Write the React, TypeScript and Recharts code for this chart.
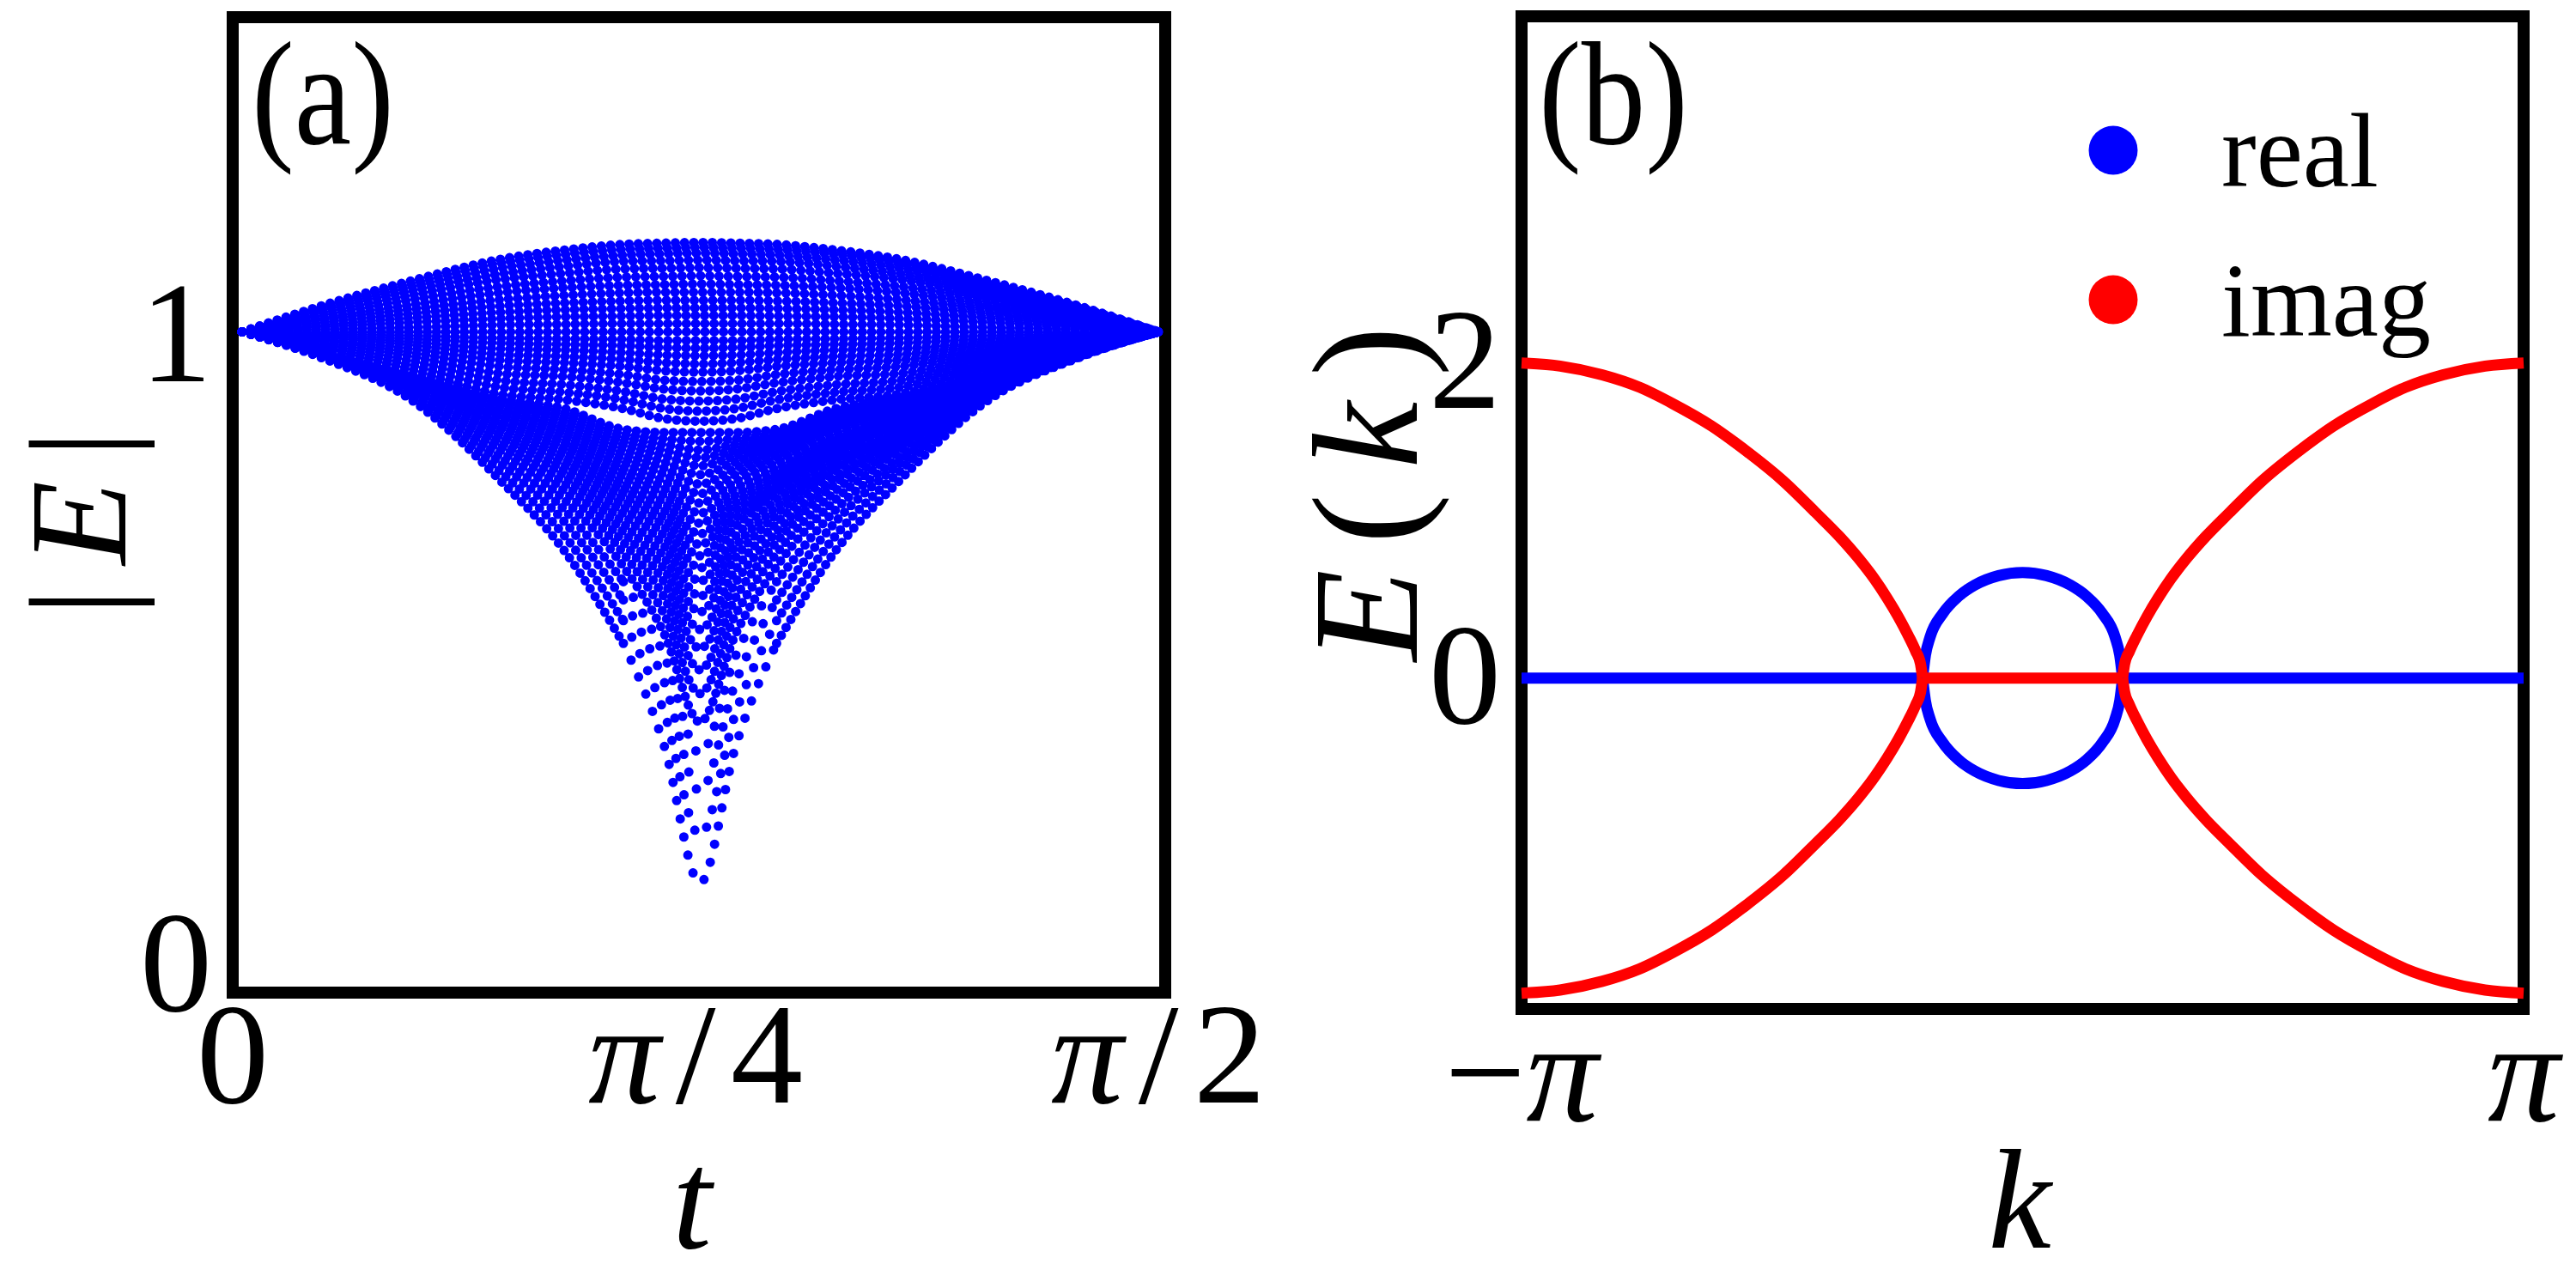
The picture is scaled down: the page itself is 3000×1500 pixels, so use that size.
import React from "react";
import { LineChart, Line, XAxis, YAxis, ReferenceArea, Legend } from "recharts";

const FONT = '"Liberation Serif", "DejaVu Serif", serif';
const BLUE = "#0000ff";
const RED = "#ff0000";

// ---------- panel (a): |E| against t ----------
// t positions where each row of dots was read (first column .. last column)
const T_SAMPLES = [0.016, 0.153, 0.303, 0.453, 0.563, 0.663, 0.733, 0.793, 0.853, 0.923, 1.023, 1.133, 1.283, 1.433, 1.571];

// rows of the upper band (arch up above 1, flat at 1, sag a little below 1)
const UPPER_ROWS = [
  [1.0, 1.042, 1.081, 1.115, 1.13, 1.139, 1.141, 1.142, 1.141, 1.139, 1.13, 1.115, 1.081, 1.042, 1.0],
  [1.0, 1.04, 1.076, 1.109, 1.123, 1.131, 1.133, 1.134, 1.133, 1.131, 1.123, 1.109, 1.076, 1.04, 1.0],
  [1.0, 1.037, 1.071, 1.101, 1.114, 1.122, 1.124, 1.125, 1.124, 1.122, 1.114, 1.101, 1.071, 1.037, 1.0],
  [1.0, 1.034, 1.065, 1.092, 1.104, 1.112, 1.113, 1.114, 1.113, 1.112, 1.104, 1.092, 1.065, 1.034, 1.0],
  [1.0, 1.03, 1.058, 1.083, 1.093, 1.1, 1.101, 1.102, 1.101, 1.1, 1.093, 1.083, 1.058, 1.03, 1.0],
  [1.0, 1.026, 1.051, 1.072, 1.081, 1.087, 1.088, 1.089, 1.088, 1.087, 1.081, 1.072, 1.051, 1.026, 1.0],
  [1.0, 1.022, 1.043, 1.062, 1.07, 1.074, 1.075, 1.076, 1.075, 1.074, 1.07, 1.062, 1.043, 1.022, 1.0],
  [1.0, 1.019, 1.036, 1.051, 1.058, 1.062, 1.063, 1.063, 1.063, 1.062, 1.058, 1.051, 1.036, 1.019, 1.0],
  [1.0, 1.015, 1.029, 1.041, 1.046, 1.049, 1.05, 1.05, 1.05, 1.049, 1.046, 1.041, 1.029, 1.015, 1.0],
  [1.0, 1.011, 1.022, 1.031, 1.035, 1.037, 1.038, 1.038, 1.038, 1.037, 1.035, 1.031, 1.022, 1.011, 1.0],
  [1.0, 1.008, 1.015, 1.021, 1.024, 1.025, 1.026, 1.026, 1.026, 1.025, 1.024, 1.021, 1.015, 1.008, 1.0],
  [1.0, 1.004, 1.007, 1.011, 1.012, 1.013, 1.013, 1.013, 1.013, 1.013, 1.012, 1.011, 1.007, 1.004, 1.0],
  [1.0, 1.0, 1.0, 1.0, 1.0, 1.0, 1.0, 1.0, 1.0, 1.0, 1.0, 1.0, 1.0, 1.0, 1.0],
  [1.0, 0.997, 0.994, 0.99, 0.989, 0.988, 0.986, 0.986, 0.986, 0.988, 0.989, 0.99, 0.994, 0.997, 1.0],
  [1.0, 0.995, 0.989, 0.982, 0.98, 0.978, 0.975, 0.974, 0.975, 0.978, 0.98, 0.982, 0.989, 0.995, 1.0],
  [1.0, 0.993, 0.984, 0.973, 0.971, 0.967, 0.963, 0.962, 0.963, 0.967, 0.971, 0.973, 0.984, 0.993, 1.0],
  [1.0, 0.991, 0.979, 0.964, 0.961, 0.956, 0.951, 0.949, 0.951, 0.956, 0.961, 0.964, 0.979, 0.991, 1.0],
  [1.0, 0.988, 0.973, 0.955, 0.951, 0.945, 0.938, 0.936, 0.938, 0.945, 0.951, 0.955, 0.973, 0.988, 1.0],
  [1.0, 0.986, 0.967, 0.945, 0.94, 0.932, 0.923, 0.921, 0.923, 0.932, 0.94, 0.945, 0.967, 0.986, 1.0],
  [1.0, 0.983, 0.961, 0.934, 0.929, 0.919, 0.909, 0.906, 0.909, 0.919, 0.929, 0.934, 0.961, 0.983, 1.0],
  [1.0, 0.98, 0.954, 0.923, 0.916, 0.905, 0.893, 0.89, 0.893, 0.905, 0.916, 0.923, 0.954, 0.98, 1.0],
  [1.0, 0.977, 0.947, 0.912, 0.904, 0.892, 0.878, 0.874, 0.878, 0.892, 0.904, 0.912, 0.947, 0.977, 1.0],
  [1.0, 0.974, 0.94, 0.901, 0.892, 0.878, 0.862, 0.858, 0.862, 0.878, 0.892, 0.901, 0.94, 0.974, 1.0],
];

// rows of the lower band (nested U / V shapes down to the tip)
const LOWER_ROWS = [
  [1.0, 0.969, 0.933, 0.895, 0.878, 0.845, 0.84, 0.84, 0.84, 0.845, 0.878, 0.895, 0.933, 0.969, 1.0],
  [1.0, 0.969, 0.932, 0.892, 0.873, 0.838, 0.83, 0.826, 0.83, 0.838, 0.873, 0.892, 0.932, 0.969, 1.0],
  [1.0, 0.969, 0.931, 0.89, 0.869, 0.832, 0.821, 0.812, 0.821, 0.832, 0.869, 0.89, 0.931, 0.969, 1.0],
  [1.0, 0.968, 0.931, 0.888, 0.865, 0.826, 0.812, 0.8, 0.812, 0.826, 0.865, 0.888, 0.931, 0.968, 1.0],
  [1.0, 0.968, 0.93, 0.885, 0.861, 0.82, 0.803, 0.787, 0.803, 0.82, 0.861, 0.885, 0.93, 0.968, 1.0],
  [1.0, 0.968, 0.929, 0.883, 0.857, 0.813, 0.793, 0.773, 0.793, 0.813, 0.857, 0.883, 0.929, 0.968, 1.0],
  [1.0, 0.968, 0.928, 0.88, 0.852, 0.806, 0.783, 0.758, 0.783, 0.806, 0.852, 0.88, 0.928, 0.968, 1.0],
  [1.0, 0.968, 0.927, 0.877, 0.847, 0.799, 0.773, 0.743, 0.773, 0.799, 0.847, 0.877, 0.927, 0.968, 1.0],
  [1.0, 0.967, 0.927, 0.875, 0.843, 0.792, 0.762, 0.728, 0.762, 0.792, 0.843, 0.875, 0.927, 0.967, 1.0],
  [1.0, 0.967, 0.926, 0.872, 0.838, 0.784, 0.751, 0.712, 0.751, 0.784, 0.838, 0.872, 0.926, 0.967, 1.0],
  [1.0, 0.967, 0.925, 0.869, 0.833, 0.777, 0.74, 0.696, 0.74, 0.777, 0.833, 0.869, 0.925, 0.967, 1.0],
  [1.0, 0.967, 0.924, 0.866, 0.827, 0.769, 0.728, 0.679, 0.728, 0.769, 0.827, 0.866, 0.924, 0.967, 1.0],
  [1.0, 0.966, 0.923, 0.863, 0.822, 0.76, 0.716, 0.662, 0.716, 0.76, 0.822, 0.863, 0.923, 0.966, 1.0],
  [1.0, 0.966, 0.922, 0.859, 0.816, 0.752, 0.703, 0.644, 0.703, 0.752, 0.816, 0.859, 0.922, 0.966, 1.0],
  [1.0, 0.966, 0.921, 0.856, 0.81, 0.743, 0.69, 0.625, 0.69, 0.743, 0.81, 0.856, 0.921, 0.966, 1.0],
  [1.0, 0.965, 0.919, 0.852, 0.803, 0.733, 0.675, 0.604, 0.675, 0.733, 0.803, 0.852, 0.919, 0.965, 1.0],
  [1.0, 0.965, 0.918, 0.848, 0.796, 0.722, 0.659, 0.58, 0.659, 0.722, 0.796, 0.848, 0.918, 0.965, 1.0],
  [1.0, 0.965, 0.917, 0.843, 0.788, 0.71, 0.641, 0.555, 0.641, 0.71, 0.788, 0.843, 0.917, 0.965, 1.0],
  [1.0, 0.964, 0.915, 0.838, 0.779, 0.696, 0.622, 0.527, 0.622, 0.696, 0.779, 0.838, 0.915, 0.964, 1.0],
  [1.0, 0.964, 0.913, 0.833, 0.77, 0.682, 0.601, 0.497, 0.601, 0.682, 0.77, 0.833, 0.913, 0.964, 1.0],
  [1.0, 0.963, 0.911, 0.826, 0.759, 0.666, 0.577, 0.463, 0.577, 0.666, 0.759, 0.826, 0.911, 0.963, 1.0],
  [1.0, 0.963, 0.909, 0.82, 0.747, 0.648, 0.55, 0.425, 0.55, 0.648, 0.747, 0.82, 0.909, 0.963, 1.0],
  [1.0, 0.962, 0.907, 0.812, 0.733, 0.627, 0.519, 0.38, 0.519, 0.627, 0.733, 0.812, 0.907, 0.962, 1.0],
  [1.0, 0.961, 0.904, 0.802, 0.717, 0.603, 0.484, 0.33, 0.484, 0.603, 0.717, 0.802, 0.904, 0.961, 1.0],
  [1.0, 0.96, 0.9, 0.792, 0.698, 0.574, 0.442, 0.27, 0.442, 0.574, 0.698, 0.792, 0.9, 0.96, 1.0],
  [1.0, 0.959, 0.896, 0.779, 0.676, 0.541, 0.393, 0.2, 0.393, 0.541, 0.676, 0.779, 0.896, 0.959, 1.0],
  [1.0, 0.958, 0.892, 0.765, 0.652, 0.505, 0.34, 0.124, 0.34, 0.505, 0.652, 0.765, 0.892, 0.958, 1.0],
];

const A_X_DOMAIN = [0, 1.5825];
const A_Y_DOMAIN = [-0.05, 1.5];
const A_X_TICKS = [0, Math.PI / 4, Math.PI / 2];
const A_X_LABELS = ["0", "π/4", "π/2"];
const A_Y_TICKS = [0, 1];
const A_Y_LABELS = ["0", "1"];

// ---------- panel (b): E(k) ----------
const K_LEFT = [-3.1416, -2.9, -2.637, -2.4, -2.19, -1.95, -1.744, -1.5, -1.297, -1.15, -1.029, -0.93, -0.851, -0.78, -0.717, -0.67, -0.64, -0.627];
const IMAG_LEFT_UP = [2.0, 1.98, 1.925, 1.845, 1.74, 1.6, 1.45, 1.25, 1.05, 0.9, 0.76, 0.63, 0.51, 0.39, 0.27, 0.17, 0.09, 0.0];
const IMAG_LEFT_DOWN = [-2.0, -1.98, -1.925, -1.845, -1.74, -1.6, -1.45, -1.25, -1.05, -0.9, -0.76, -0.63, -0.51, -0.39, -0.27, -0.17, -0.09, 0.0];
const K_RIGHT = [0.627, 0.64, 0.67, 0.717, 0.78, 0.851, 0.93, 1.029, 1.15, 1.297, 1.5, 1.744, 1.95, 2.19, 2.4, 2.637, 2.9, 3.1416];
const IMAG_RIGHT_UP = [0.0, 0.09, 0.17, 0.27, 0.39, 0.51, 0.63, 0.76, 0.9, 1.05, 1.25, 1.45, 1.6, 1.74, 1.845, 1.925, 1.98, 2.0];
const IMAG_RIGHT_DOWN = [0.0, -0.09, -0.17, -0.27, -0.39, -0.51, -0.63, -0.76, -0.9, -1.05, -1.25, -1.45, -1.6, -1.74, -1.845, -1.925, -1.98, -2.0];
const K_MID = [-0.627, 0.627];
const IMAG_MID = [0, 0];

const K_LOOP = [-0.627, -0.61, -0.58, -0.5, -0.4, -0.3, -0.15, 0, 0.15, 0.3, 0.4, 0.5, 0.58, 0.61, 0.627];
const REAL_LOOP_UP = [0, 0.14, 0.26, 0.41, 0.52, 0.59, 0.65, 0.67, 0.65, 0.59, 0.52, 0.41, 0.26, 0.14, 0];
const REAL_LOOP_DOWN = [0, -0.14, -0.26, -0.41, -0.52, -0.59, -0.65, -0.67, -0.65, -0.59, -0.52, -0.41, -0.26, -0.14, 0];
const K_OUT_LEFT = [-3.1416, -0.627];
const K_OUT_RIGHT = [0.627, 3.1416];
const REAL_OUT = [0, 0];

const B_X_DOMAIN = [-Math.PI, Math.PI];
const B_Y_DOMAIN = [-2.1, 4.2];
const B_X_TICKS = [-Math.PI, Math.PI];
const B_X_LABELS = ["−π", "π"];
const B_Y_TICKS = [0, 2];
const B_Y_LABELS = ["0", "2"];
const LEGEND_ORDER = ["real", "imag"];

// text widths stretched to the wider TeX glyphs of the original
const A_X_LABEL_LEN = [0, 250, 250];
const B_X_LABEL_LEN = [0, 0];

// dot pitch of one column; near the sparse tip of the V the deepest rows show every other column
const DOT_GAP = 10.78;
const TIP_LEVEL = 0.35;
const TIP_FIRST = 5; // sample index range (t = 0.663 .. 0.923) drawn as the tip piece
const TIP_LAST = 9;

const zip = (xs: number[], ys: (number | null)[]) => xs.map((x, i) => ({ x, y: ys[i] }));

// italic for π and latin letters, upright for digits and symbols
function mathSpans(s: string) {
  return s.split("").map((ch, i) => (
    <tspan key={i} fontStyle={/[a-zA-Zπ]/.test(ch) ? "italic" : "normal"}>
      {ch}
    </tspan>
  ));
}

const TICK_SIZE = 168;

function makeXTick(ticks: number[], labels: string[], lens: number[], drop: number) {
  return (props: any) => {
    const idx = ticks.findIndex((v) => Math.abs(v - props.payload.value) < 1e-6);
    const len = lens[idx];
    return (
      <text
        x={props.x}
        y={props.y + drop}
        textAnchor="middle"
        fontFamily={FONT}
        fontSize={TICK_SIZE}
        fill="#000"
        {...(len ? { textLength: len, lengthAdjust: "spacing" } : {})}
      >
        {mathSpans(labels[idx] ?? "")}
      </text>
    );
  };
}

function makeYTick(ticks: number[], labels: string[], shift: number) {
  return (props: any) => {
    const idx = ticks.findIndex((v) => Math.abs(v - props.payload.value) < 1e-6);
    return (
      <text x={props.x - 24} y={props.y + shift} textAnchor="end" fontFamily={FONT} fontSize={TICK_SIZE} fill="#000">
        {labels[idx] ?? ""}
      </text>
    );
  };
}

// split every row into dotted pieces: the deepest rows get a sparser tip piece
function rowPieces(rows: number[][]) {
  const pieces: { data: { x: number; y: number | null }[]; gap: number }[] = [];
  rows.forEach((row) => {
    if (Math.min(...row) < TIP_LEVEL) {
      const arms = row.map((v, i) => (i > TIP_FIRST && i < TIP_LAST ? null : v));
      const tip = row.map((v, i) => (i >= TIP_FIRST && i <= TIP_LAST ? v : null));
      pieces.push({ data: zip(T_SAMPLES, arms), gap: DOT_GAP });
      pieces.push({ data: zip(T_SAMPLES, tip), gap: DOT_GAP * 2 });
    } else {
      pieces.push({ data: zip(T_SAMPLES, row), gap: DOT_GAP });
    }
  });
  return pieces;
}

function PanelA() {
  const pieces = rowPieces([...UPPER_ROWS, ...LOWER_ROWS]);
  return (
    <LineChart width={1480} height={1500} margin={{ top: 20, right: 123, left: 100, bottom: 144 }}>
      <XAxis
        type="number"
        dataKey="x"
        domain={A_X_DOMAIN}
        ticks={A_X_TICKS}
        interval={0}
        height={200}
        axisLine={false}
        tickLine={false}
        tickSize={0}
        tickMargin={0}
        tick={makeXTick(A_X_TICKS, A_X_LABELS, A_X_LABEL_LEN, 128)}
      />
      <YAxis
        type="number"
        dataKey="y"
        domain={A_Y_DOMAIN}
        ticks={A_Y_TICKS}
        interval={0}
        width={171}
        axisLine={false}
        tickLine={false}
        tickSize={0}
        tickMargin={0}
        tick={makeYTick(A_Y_TICKS, A_Y_LABELS, 58)}
      />
      {pieces.map((p, i) => (
        <Line
          key={i}
          data={p.data}
          dataKey="y"
          type="monotone"
          stroke={BLUE}
          strokeWidth={11}
          strokeLinecap="round"
          strokeDasharray={`0 ${p.gap}`}
          dot={false}
          activeDot={false}
          legendType="none"
          isAnimationActive={false}
        />
      ))}
      <ReferenceArea
        x1={A_X_DOMAIN[0]}
        x2={A_X_DOMAIN[1]}
        y1={A_Y_DOMAIN[0]}
        y2={A_Y_DOMAIN[1]}
        fill="none"
        fillOpacity={0}
        stroke="#000"
        strokeWidth={14}
      />
    </LineChart>
  );
}

function renderLegend(props: any) {
  const items = (props.payload || [])
    .filter((p: any) => LEGEND_ORDER.includes(p.value))
    .sort((a: any, b: any) => LEGEND_ORDER.indexOf(a.value) - LEGEND_ORDER.indexOf(b.value));
  return (
    <svg width={460} height={400}>
      {items.map((it: any, i: number) => (
        <g key={i}>
          <circle cx={29} cy={89 + i * 174} r={28.5} fill={it.color} />
          <text x={155} y={131 + i * 174} fontFamily={FONT} fontSize={122} fill="#000">
            {it.value}
          </text>
        </g>
      ))}
    </svg>
  );
}

function PanelB() {
  const lineProps = {
    dataKey: "y",
    type: "monotone" as const,
    strokeWidth: 13,
    dot: false,
    activeDot: false,
    isAnimationActive: false,
  };
  return (
    <LineChart width={1500} height={1500} margin={{ top: 19, right: 61, left: 100, bottom: 125 }}>
      <XAxis
        type="number"
        dataKey="x"
        domain={B_X_DOMAIN}
        ticks={B_X_TICKS}
        interval={0}
        height={200}
        axisLine={false}
        tickLine={false}
        tickSize={0}
        tickMargin={0}
        tick={makeXTick(B_X_TICKS, B_X_LABELS, B_X_LABEL_LEN, 130)}
      />
      <YAxis
        type="number"
        dataKey="y"
        domain={B_Y_DOMAIN}
        ticks={B_Y_TICKS}
        interval={0}
        width={172}
        axisLine={false}
        tickLine={false}
        tickSize={0}
        tickMargin={0}
        tick={makeYTick(B_Y_TICKS, B_Y_LABELS, 52)}
      />
      <Line {...lineProps} data={zip(K_OUT_LEFT, REAL_OUT)} stroke={BLUE} name="real" legendType="circle" />
      <Line {...lineProps} data={zip(K_OUT_RIGHT, REAL_OUT)} stroke={BLUE} legendType="none" />
      <Line {...lineProps} data={zip(K_LOOP, REAL_LOOP_UP)} stroke={BLUE} legendType="none" />
      <Line {...lineProps} data={zip(K_LOOP, REAL_LOOP_DOWN)} stroke={BLUE} legendType="none" />
      <Line {...lineProps} data={zip(K_LEFT, IMAG_LEFT_UP)} stroke={RED} name="imag" legendType="circle" />
      <Line {...lineProps} data={zip(K_LEFT, IMAG_LEFT_DOWN)} stroke={RED} legendType="none" />
      <Line {...lineProps} data={zip(K_RIGHT, IMAG_RIGHT_UP)} stroke={RED} legendType="none" />
      <Line {...lineProps} data={zip(K_RIGHT, IMAG_RIGHT_DOWN)} stroke={RED} legendType="none" />
      <Line {...lineProps} data={zip(K_MID, IMAG_MID)} stroke={RED} legendType="none" />
      <ReferenceArea
        x1={B_X_DOMAIN[0]}
        x2={B_X_DOMAIN[1]}
        y1={B_Y_DOMAIN[0]}
        y2={B_Y_DOMAIN[1]}
        fill="none"
        fillOpacity={0}
        stroke="#000"
        strokeWidth={14}
      />
      <Legend
        layout="horizontal"
        align="center"
        verticalAlign="middle"
        content={renderLegend}
        wrapperStyle={{ position: "absolute", left: 932, top: 86, width: 460, height: 400 }}
      />
    </LineChart>
  );
}

export default function App() {
  return (
    <div style={{ position: "absolute", left: 0, top: 0, width: 3000, height: 1500, background: "#fff" }}>
      <div style={{ position: "absolute", left: 0, top: 0 }}>
        <PanelA />
      </div>
      <div style={{ position: "absolute", left: 1500, top: 0 }}>
        <PanelB />
      </div>
      <svg width={3000} height={1500} style={{ position: "absolute", left: 0, top: 0, pointerEvents: "none" }}>
        <g fontFamily={FONT} fill="#000">
          <text x={293} y={167} fontSize={172} textLength={166} lengthAdjust="spacingAndGlyphs">(a)</text>
          <text x={1792} y={167} fontSize={172} textLength={174} lengthAdjust="spacingAndGlyphs">(b)</text>
          <text transform="translate(146,609) rotate(-90)" textAnchor="middle" fontSize={160} textLength={216} lengthAdjust="spacing">
            |<tspan fontStyle="italic">E</tspan>|
          </text>
          <text x={806} y={1453} textAnchor="middle" fontSize={165} fontStyle="italic">t</text>
          <text transform="translate(1650,575) rotate(-90)" textAnchor="middle" fontSize={175} textLength={390} lengthAdjust="spacing">
            <tspan fontStyle="italic">E</tspan>(<tspan fontStyle="italic">k</tspan>)
          </text>
          <text x={2352} y={1453} textAnchor="middle" fontSize={165} fontStyle="italic">k</text>
        </g>
      </svg>
    </div>
  );
}
